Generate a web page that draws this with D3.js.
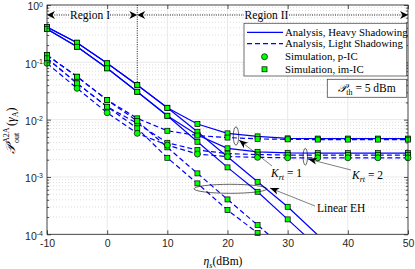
<!DOCTYPE html>
<html>
<head>
<meta charset="utf-8">
<script src="https://cdn.jsdelivr.net/npm/d3@7"></script>
<style>
	body { margin: 0; background: #fff; }
	svg text { font-family: "Liberation Serif", "DejaVu Serif", serif; fill: #000; }
	.tick-label { font-family: "Liberation Sans", Arial, sans-serif !important; fill: #262626 !important; }
</style>
</head>
<body>
<svg id="chart" width="415" height="269"></svg>
<script>
const snr = [-10, -5, 0, 5, 10, 15, 20, 25, 30, 35, 40, 45, 50];

// heavy shadowing (solid)
const heavyK1 = [0.413, 0.220, 0.0961, 0.0402, 0.0161, 0.00838, 0.00577, 0.00511, 0.00472, 0.00468, 0.00468, 0.00468, 0.00468];
const heavyK2 = [0.381, 0.187, 0.0786, 0.0307, 0.0117, 0.00539, 0.00316, 0.00275, 0.00264, 0.00261, 0.00261, 0.00261, 0.00261];
const heavyLinK1 = [0.413, 0.220, 0.0961, 0.0402, 0.0161, 0.00615, 0.00225, 0.000824, 0.000302, 0.000097];
const heavyLinK2 = [0.381, 0.187, 0.0786, 0.0307, 0.0117, 0.00411, 0.00147, 0.000552, 0.000182, 0.00006];

// light shadowing (dashed)
const lightK1 = [0.134, 0.0561, 0.0220, 0.01054, 0.0064, 0.00528, 0.00487, 0.00462, 0.00453, 0.00449, 0.00449, 0.00449, 0.00449];
const lightK2 = [0.1175, 0.0430, 0.0168, 0.00862, 0.00395, 0.00295, 0.00256, 0.00246, 0.00241, 0.00241, 0.00241, 0.00241, 0.00241];
const lightLinK1 = [0.134, 0.0561, 0.0220, 0.00946, 0.00329, 0.001156, 0.000406, 0.000145, 0.000051];
const lightLinK2 = [0.1175, 0.0430, 0.0168, 0.00705, 0.00216, 0.000773, 0.000264, 0.000106, 0.0000355];
const lightPIC = [0.0961, 0.0352, 0.0132, 0.00577, 0.0036, 0.00251, 0.00227, 0.00220, 0.00216, 0.00216, 0.00216, 0.00216, 0.00216];

const series = [
	{ values: heavyK1, dash: null, marker: "square" },
	{ values: heavyK2, dash: null, marker: "square" },
	{ values: heavyLinK1, dash: null, marker: "square" },
	{ values: heavyLinK2, dash: null, marker: "square" },
	{ values: lightK1, dash: "5,3", marker: "square" },
	{ values: lightK2, dash: "5,3", marker: "square" },
	{ values: lightLinK1, dash: "5,3", marker: "square" },
	{ values: lightLinK2, dash: "5,3", marker: "square" },
	{ values: lightPIC, dash: "5,3", marker: "circle" }
];

const legendLabels = ["Analysis, Heavy Shadowing", "Analysis, Light Shadowing", "Simulation, p-IC", "Simulation, im-IC"];

const plotLeft = 47, plotRight = 408, plotTop = 5, plotBottom = 234.3;

const x = d3.scaleLinear().domain([-10, 50]).range([plotLeft, plotRight]);
const y = d3.scaleLog().domain([1e-4, 1]).range([plotBottom, plotTop]);

const svg = d3.select("#chart");

svg.append("defs")
	.append("clipPath")
	.attr("id", "plot-clip")
	.append("rect")
	.attr("x", plotLeft)
	.attr("y", plotTop)
	.attr("width", plotRight - plotLeft)
	.attr("height", plotBottom - plotTop);

// grid
const minorY = [];
for (let e = -4; e < 0; e++) {
	for (let m = 2; m <= 9; m++) minorY.push(m * Math.pow(10, e));
}
const majorY = [1e-4, 1e-3, 1e-2, 1e-1, 1];
const xTicks = d3.range(-10, 51, 10);

svg.append("g")
	.selectAll("line")
	.data(minorY)
	.enter()
	.append("line")
	.attr("x1", plotLeft)
	.attr("x2", plotRight)
	.attr("y1", (d) => y(d))
	.attr("y2", (d) => y(d))
	.attr("stroke", "#c8c8c8")
	.attr("stroke-width", 0.6)
	.attr("stroke-dasharray", "1,2");

svg.append("g")
	.selectAll("line")
	.data(majorY)
	.enter()
	.append("line")
	.attr("x1", plotLeft)
	.attr("x2", plotRight)
	.attr("y1", (d) => y(d))
	.attr("y2", (d) => y(d))
	.attr("stroke", "#e3e3e3")
	.attr("stroke-width", 0.8);

svg.append("g")
	.selectAll("line")
	.data(xTicks)
	.enter()
	.append("line")
	.attr("x1", (d) => x(d))
	.attr("x2", (d) => x(d))
	.attr("y1", plotTop)
	.attr("y2", plotBottom)
	.attr("stroke", "#e3e3e3")
	.attr("stroke-width", 0.8);

// curves
const line = d3.line()
	.x((d, i) => x(snr[ i ]))
	.y((d) => y(d));

const plot = svg.append("g").attr("clip-path", "url(#plot-clip)");

plot.selectAll("path.curve")
	.data(series)
	.enter()
	.append("path")
	.attr("class", "curve")
	.attr("d", (d) => line(d.values))
	.attr("fill", "none")
	.attr("stroke", "#0000ff")
	.attr("stroke-width", 1.2)
	.attr("stroke-dasharray", (d) => d.dash);

// markers
const points = [];
series.forEach((s) => {
	s.values.forEach((v, i) => {
		if (v >= 1e-4 && v <= 1) points.push({ x: snr[ i ], v: v, marker: s.marker });
	});
});

svg.append("g")
	.selectAll("rect")
	.data(points.filter((d) => d.marker === "square"))
	.enter()
	.append("rect")
	.attr("x", (d) => x(d.x) - 2.5)
	.attr("y", (d) => y(d.v) - 2.5)
	.attr("width", 5)
	.attr("height", 5)
	.attr("fill", "#00ff00")
	.attr("stroke", "#000")
	.attr("stroke-width", 0.7);

svg.append("g")
	.selectAll("circle")
	.data(points.filter((d) => d.marker === "circle"))
	.enter()
	.append("circle")
	.attr("cx", (d) => x(d.x))
	.attr("cy", (d) => y(d.v))
	.attr("r", 3)
	.attr("fill", "#00ff00")
	.attr("stroke", "#000")
	.attr("stroke-width", 0.7);

// axes box and ticks
const axisColor = "#262626";
svg.append("rect")
	.attr("x", plotLeft)
	.attr("y", plotTop)
	.attr("width", plotRight - plotLeft)
	.attr("height", plotBottom - plotTop)
	.attr("fill", "none")
	.attr("stroke", axisColor)
	.attr("stroke-width", 0.8);

const xAxis = svg.append("g")
	.attr("transform", `translate(0,${plotBottom})`)
	.call(d3.axisBottom(x).tickValues(xTicks).tickSize(-4).tickPadding(5).tickFormat((d) => String(d)));
const xAxisTop = svg.append("g")
	.attr("transform", `translate(0,${plotTop})`)
	.call(d3.axisTop(x).tickValues(xTicks).tickSize(-4).tickFormat(""));
const yAxis = svg.append("g")
	.attr("transform", `translate(${plotLeft},0)`)
	.call(d3.axisLeft(y).tickValues(majorY).tickSize(-4).tickPadding(6).tickFormat(""));
const yAxisRight = svg.append("g")
	.attr("transform", `translate(${plotRight},0)`)
	.call(d3.axisRight(y).tickValues(majorY).tickSize(-4).tickFormat(""));
const yMinorL = svg.append("g")
	.attr("transform", `translate(${plotLeft},0)`)
	.call(d3.axisLeft(y).tickValues(minorY).tickSize(-2.2).tickFormat(""));
const yMinorR = svg.append("g")
	.attr("transform", `translate(${plotRight},0)`)
	.call(d3.axisRight(y).tickValues(minorY).tickSize(-2.2).tickFormat(""));

[xAxis, xAxisTop, yAxis, yAxisRight, yMinorL, yMinorR].forEach((g) => {
	g.select(".domain").remove();
	g.selectAll(".tick line").attr("stroke", axisColor).attr("stroke-width", 0.8);
});

xAxis.selectAll(".tick text")
	.attr("class", "tick-label")
	.attr("font-size", 10.5);

yAxis.selectAll(".tick")
	.append("text")
	.attr("class", "tick-label")
	.attr("x", -4)
	.attr("y", 4.8)
	.attr("text-anchor", "end")
	.attr("font-size", 10.5)
	.each(function (d) {
		const t = d3.select(this);
		t.append("tspan").text("10");
		t.append("tspan")
			.attr("font-size", 7)
			.attr("dy", -3.8)
			.text(String(Math.round(Math.log10(d))));
	});

// axis labels
svg.append("text")
	.attr("x", 223)
	.attr("y", 265)
	.attr("text-anchor", "middle")
	.attr("font-size", 11.5)
	.call((t) => {
		t.append("tspan").attr("font-style", "italic").text("η");
		t.append("tspan").attr("font-style", "italic").attr("font-size", 8).attr("dy", 2.5).text("s");
		t.append("tspan").attr("dy", -2.5).text("(dBm)");
	});

const yLabel = svg.append("g").attr("transform", "translate(15,124) rotate(-90)");
yLabel.append("text").attr("x", -30).attr("y", 0).attr("font-size", 13).attr("font-style", "italic").text("𝒫");
yLabel.append("text").attr("x", -19).attr("y", -6).attr("font-size", 8).text("A2A");
yLabel.append("text").attr("x", -19).attr("y", 4).attr("font-size", 8).text("out");
yLabel.append("text")
	.attr("x", -2)
	.attr("y", 0)
	.attr("font-size", 12)
	.call((t) => {
		t.append("tspan").text("(");
		t.append("tspan").attr("font-style", "italic").text("γ");
		t.append("tspan").attr("font-size", 8).attr("dy", 2.5).text("A");
		t.append("tspan").attr("dy", -2.5).text(")");
	});

// region markers
function arrowHead(g, tipX, tipY, dir) {
	const l = 8, w = 4, n = 2.5;
	const pts = [
		[tipX, tipY],
		[tipX + dir * l, tipY - w],
		[tipX + dir * (l - n), tipY],
		[tipX + dir * l, tipY + w]
	];
	g.append("path")
		.attr("d", "M" + pts.map((p) => p.join(",")).join("L") + "Z")
		.attr("fill", "#000");
}

const ann = svg.append("g");
const regionY = 15;
const xSplit = x(5);

ann.append("line")
	.attr("x1", xSplit).attr("x2", xSplit)
	.attr("y1", plotTop).attr("y2", y(heavyK1[ 3 ]) - 3)
	.attr("stroke", "#000").attr("stroke-width", 0.9).attr("stroke-dasharray", "1,1.3");

[[plotLeft + 5, 70], [110, xSplit - 5], [xSplit + 5, 244], [289, plotRight - 5]].forEach((seg) => {
	ann.append("line")
		.attr("x1", seg[ 0 ]).attr("x2", seg[ 1 ])
		.attr("y1", regionY).attr("y2", regionY)
		.attr("stroke", "#000").attr("stroke-width", 0.9).attr("stroke-dasharray", "1,1.3");
});
arrowHead(ann, plotLeft, regionY, 1);
arrowHead(ann, xSplit, regionY, -1);
arrowHead(ann, xSplit, regionY, 1);
arrowHead(ann, plotRight, regionY, -1);

ann.append("text").attr("x", 90).attr("y", regionY + 4).attr("text-anchor", "middle").attr("font-size", 11.5).text("Region I");
ann.append("text").attr("x", 266.5).attr("y", regionY + 4).attr("text-anchor", "middle").attr("font-size", 11.5).text("Region II");

// ellipses and labels
ann.append("ellipse").attr("cx", 236).attr("cy", 136).attr("rx", 2.7).attr("ry", 9.2)
	.attr("fill", "none").attr("stroke", "#000").attr("stroke-width", 0.6);
ann.append("ellipse").attr("cx", 305.3).attr("cy", 156.7).attr("rx", 2.2).attr("ry", 8.4)
	.attr("fill", "none").attr("stroke", "#000").attr("stroke-width", 0.6);
ann.append("ellipse").attr("cx", 230.5).attr("cy", 188.8).attr("rx", 36.5).attr("ry", 4.5)
	.attr("fill", "none").attr("stroke", "#000").attr("stroke-width", 0.6);

function pointer(g, x1, y1, x2, y2) {
	g.append("line").attr("x1", x1).attr("y1", y1).attr("x2", x2).attr("y2", y2)
		.attr("stroke", "#000").attr("stroke-width", 0.5);
	const a = Math.atan2(y2 - y1, x2 - x1);
	const l = 9, w = 3.5;
	const bx = x2 - l * Math.cos(a), by = y2 - l * Math.sin(a);
	const nx = x2 - (l - 2.5) * Math.cos(a), ny = y2 - (l - 2.5) * Math.sin(a);
	const px = -Math.sin(a) * w, py = Math.cos(a) * w;
	g.append("path")
		.attr("d", `M${x2},${y2}L${bx + px},${by + py}L${nx},${ny}L${bx - px},${by - py}Z`)
		.attr("fill", "#000");
}

pointer(ann, 272, 166, 239, 140);
pointer(ann, 351, 170, 308, 159);
pointer(ann, 315, 206, 270, 188);

function kLabel(g, cx, cy, k) {
	const t = g.append("text").attr("x", cx).attr("y", cy).attr("font-size", 11.5);
	t.append("tspan").attr("font-style", "italic").text("K");
	t.append("tspan").attr("font-style", "italic").attr("font-size", 8).attr("dy", 2.5).text("rt");
	t.append("tspan").attr("dy", -2.5).text(" = " + k);
}
kLabel(ann, 271, 177, 1);
kLabel(ann, 352, 179, 2);

ann.append("text").attr("x", 317).attr("y", 212).attr("font-size", 11.5).text("Linear EH");

// legend
const legend = svg.append("g");
legend.append("rect")
	.attr("x", 244).attr("y", 23.3).attr("width", 162.7).attr("height", 52.7)
	.attr("fill", "#fff").attr("stroke", "#4d4d4d").attr("stroke-width", 0.8);

const rowY = [32.3, 43.6, 56.7, 69.3];
legend.selectAll("text.legend")
	.data(legendLabels)
	.enter()
	.append("text")
	.attr("class", "legend")
	.attr("x", 285)
	.attr("y", (d, i) => rowY[ i ] + 3.6)
	.attr("font-size", 10.8)
	.text((d) => d);

legend.append("line").attr("x1", 247).attr("x2", 283).attr("y1", rowY[ 0 ]).attr("y2", rowY[ 0 ])
	.attr("stroke", "#0000ff").attr("stroke-width", 1.2);
legend.append("line").attr("x1", 247).attr("x2", 283).attr("y1", rowY[ 1 ]).attr("y2", rowY[ 1 ])
	.attr("stroke", "#0000ff").attr("stroke-width", 1.2).attr("stroke-dasharray", "5,3");
legend.append("circle").attr("cx", 264.5).attr("cy", rowY[ 2 ]).attr("r", 3)
	.attr("fill", "#00ff00").attr("stroke", "#000").attr("stroke-width", 0.7);
legend.append("rect").attr("x", 264.5 - 2.5).attr("y", rowY[ 3 ] - 2.5).attr("width", 5).attr("height", 5)
	.attr("fill", "#00ff00").attr("stroke", "#000").attr("stroke-width", 0.7);

// threshold box
const pth = svg.append("g");
pth.append("rect")
	.attr("x", 327.3).attr("y", 79.3).attr("width", 79.4).attr("height", 18)
	.attr("fill", "#fff").attr("stroke", "#4d4d4d").attr("stroke-width", 0.8);
const pthText = pth.append("text").attr("x", 367).attr("y", 92).attr("text-anchor", "middle").attr("font-size", 11.5);
pthText.append("tspan").attr("font-style", "italic").text("𝒫");
pthText.append("tspan").attr("font-size", 8).attr("dy", 2.5).text("th");
pthText.append("tspan").attr("dy", -2.5).text(" = 5 dBm");
</script>
</body>
</html>
